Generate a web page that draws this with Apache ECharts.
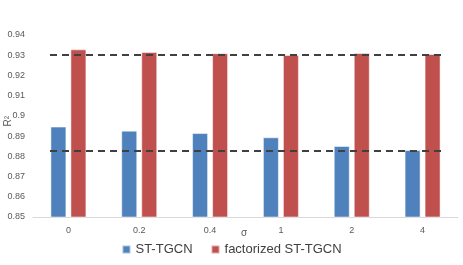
<!DOCTYPE html>
<html><head><meta charset="utf-8">
<script src="https://cdn.jsdelivr.net/npm/echarts@6/dist/echarts.min.js"></script>
<style>html,body{margin:0;padding:0;background:#fff}#c{width:463px;height:265px}</style>
</head><body><div id="c"></div>
<script>
const categories = ['0', '0.2', '0.4', '1', '2', '4'];
const stTgcn = [0.8947, 0.8927, 0.8915, 0.8894, 0.8851, 0.8831];
const factorized = [0.9329, 0.9316, 0.9310, 0.9301, 0.9311, 0.9306];
const refLines = [0.93, 0.883];
const yTicks = { min: 0.85, max: 0.94, interval: 0.01 };

const chart = echarts.init(document.getElementById('c'));
const font = 'Liberation Sans, Arial, sans-serif';
chart.setOption({
  animation: false,
  textStyle: { fontFamily: font },
  grid: [
    { left: 33, right: 5, top: 35, bottom: 48, containLabel: false, outerBoundsMode: 'none' },
    { left: 50, right: 21, top: 35, bottom: 48, containLabel: false, outerBoundsMode: 'none' }
  ],
  xAxis: [
    { type: 'category', data: categories, gridIndex: 0,
      axisLine: { lineStyle: { color: '#d9d9d9', width: 1 } },
      axisTick: { show: false },
      axisLabel: { color: '#595959', fontSize: 9, margin: 9 } },
    { type: 'category', data: categories, gridIndex: 1, show: false }
  ],
  yAxis: [
    { type: 'value', gridIndex: 0, min: yTicks.min, max: yTicks.max, interval: yTicks.interval,
      axisLine: { show: false }, axisTick: { show: false }, splitLine: { show: false },
      axisLabel: { color: '#595959', fontSize: 9, margin: 8,
        formatter: v => String(parseFloat(v.toFixed(2))) } },
    { type: 'value', gridIndex: 1, min: yTicks.min, max: yTicks.max, show: false }
  ],
  graphic: [
    { type: 'text', left: 3, top: 116, rotation: Math.PI / 2,
      style: { text: 'R²', fill: '#595959', fontSize: 10, fontFamily: font } },
    { type: 'text', left: 241, top: 228, z: 100,
      style: { text: 'σ', fill: '#595959', fontSize: 10, fontFamily: font } }
  ],
  legend: {
    bottom: 4, left: 'center', itemWidth: 8, itemHeight: 8, itemGap: 18,
    icon: 'rect',
    textStyle: { color: '#404040', fontSize: 13, fontFamily: font },
    data: ['ST-TGCN', 'factorized ST-TGCN']
  },
  series: [
    { name: 'ST-TGCN', type: 'bar', data: stTgcn, barWidth: 16, barGap: '25%',
      itemStyle: { color: '#4f81bd', borderColor: 'rgba(255,255,255,0.5)', borderWidth: 1 } },
    { name: 'factorized ST-TGCN', type: 'bar', data: factorized, barWidth: 16,
      itemStyle: { color: '#c0504d', borderColor: 'rgba(255,255,255,0.5)', borderWidth: 1 } },
    { type: 'line', xAxisIndex: 1, yAxisIndex: 1, data: [], silent: true,
      markLine: { symbol: 'none', silent: true, precision: 4, label: { show: false },
        lineStyle: { color: '#404040', type: [7, 5], width: 2 },
        data: refLines.map(v => ({ yAxis: v })) } }
  ]
});
</script></body></html>
